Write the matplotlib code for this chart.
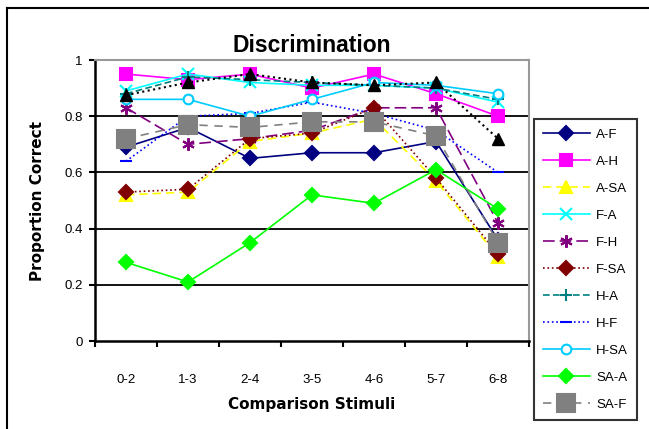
import matplotlib
matplotlib.use("Agg")
import matplotlib.pyplot as plt
from matplotlib.lines import Line2D

plt.rcParams['font.family'] = ['Liberation Sans', 'DejaVu Sans']

stimuli = ['0-2', '1-3', '2-4', '3-5', '4-6', '5-7', '6-8']

a_f = [0.69, 0.76, 0.65, 0.67, 0.67, 0.71, 0.36]
a_h = [0.95, 0.93, 0.95, 0.90, 0.95, 0.88, 0.80]
a_sa = [0.52, 0.53, 0.71, 0.74, 0.79, 0.57, 0.30]
f_a = [0.89, 0.95, 0.92, 0.91, 0.91, 0.90, 0.85]
f_h = [0.83, 0.70, 0.72, 0.75, 0.83, 0.83, 0.42]
f_sa = [0.53, 0.54, 0.72, 0.74, 0.83, 0.58, 0.31]
h_a = [0.88, 0.94, 0.93, 0.92, 0.91, 0.90, 0.86]
h_f = [0.64, 0.80, 0.81, 0.85, 0.81, 0.75, 0.60]
h_sa = [0.86, 0.86, 0.80, 0.86, 0.92, 0.91, 0.88]
sa_a = [0.28, 0.21, 0.35, 0.52, 0.49, 0.61, 0.47]
sa_f = [0.72, 0.77, 0.76, 0.78, 0.78, 0.73, 0.35]
sa_h = [0.875, 0.92, 0.95, 0.92, 0.91, 0.92, 0.72]

# label, values, colour, linestyle, marker, size, face
series = [
    ('A-F', a_f, '#000080', '-', 'D', 7, None),
    ('A-H', a_h, '#FF00FF', '-', 's', 8, None),
    ('A-SA', a_sa, '#FFFF00', (0, (5, 3)), '^', 9, None),
    ('F-A', f_a, '#00FFFF', '-', 'x', 8, None),
    ('F-H', f_h, '#800080', (0, (7, 3)), (6, 2, 0), 9, None),
    ('F-SA', f_sa, '#800000', ':', 'D', 7, None),
    ('H-A', h_a, '#008080', (0, (4, 2)), '+', 9, None),
    ('H-F', h_f, '#0000FF', ':', '_', 8, None),
    ('H-SA', h_sa, '#00CCFF', '-', 'o', 7, 'white'),
    ('SA-A', sa_a, '#00FF00', '-', 'D', 7, None),
    ('SA-F', sa_f, '#808080', (0, (5, 4)), 's', 13, None),
]

fig = plt.figure(figsize=(6.49, 4.29), dpi=100)
ax = fig.add_axes([0.1464, 0.2051, 0.6687, 0.655])

x = list(range(len(stimuli)))
for label, vals, col, ls, mk, ms, face in series:
    ax.plot(x, vals, color=col, linestyle=ls, linewidth=1.2, marker=mk,
            markersize=ms, markerfacecolor=face if face else col,
            markeredgecolor=col, markeredgewidth=1.5, label=label)

# extra series drawn without a legend entry
ax.plot(x, sa_h, color='black', linestyle=':', linewidth=1.5, marker='^',
        markersize=9, label='_nolegend_')

ax.set_xlim(-0.5, 6.5)
ax.set_ylim(0, 1)
ax.set_yticks([0, 0.2, 0.4, 0.6, 0.8, 1])
ax.set_yticklabels(['0', '0.2', '0.4', '0.6', '0.8', '1'], fontsize=9.5)
ax.set_xticks(x)
ax.set_xticklabels(stimuli, fontsize=9.5)
ax.set_xticks([i - 0.5 for i in range(8)], minor=True)
ax.tick_params(axis='x', which='major', length=0, pad=24)
ax.tick_params(axis='x', which='minor', length=4, width=1.5, direction='out')
ax.tick_params(axis='y', length=4, width=1.5, direction='out', pad=5)

for yv in [0.2, 0.4, 0.6, 0.8]:
    ax.axhline(yv, color='black', linewidth=1.3, zorder=0)

for side in ['left', 'bottom']:
    ax.spines[side].set_linewidth(1.8)
for side in ['top', 'right']:
    ax.spines[side].set_color('#999999')
    ax.spines[side].set_linewidth(1.5)

ax.set_title('Discrimination', fontsize=16.5, fontweight='bold', pad=6)
ax.set_ylabel('Proportion Correct', fontsize=11, fontweight='bold',
              family='DejaVu Sans', labelpad=14)
ax.set_xlabel('Comparison Stimuli', fontsize=11, fontweight='bold',
              family='DejaVu Sans', labelpad=8)

leg = fig.legend(loc='upper left', bbox_to_anchor=(0.823, 0.722),
                 fontsize=9.5, frameon=True, fancybox=False, edgecolor='black',
                 handlelength=3.5, labelspacing=1.12, borderpad=0.7,
                 handletextpad=0.5, borderaxespad=0)
leg.get_frame().set_linewidth(1.5)

# outer chart border
fig.add_artist(Line2D([0.011, 0.011], [0, 0.982], color='black', linewidth=1.5,
                      transform=fig.transFigure))
fig.add_artist(Line2D([0.011, 1], [0.982, 0.982], color='black', linewidth=1.5,
                      transform=fig.transFigure))

fig.savefig('out.png', dpi=100)
